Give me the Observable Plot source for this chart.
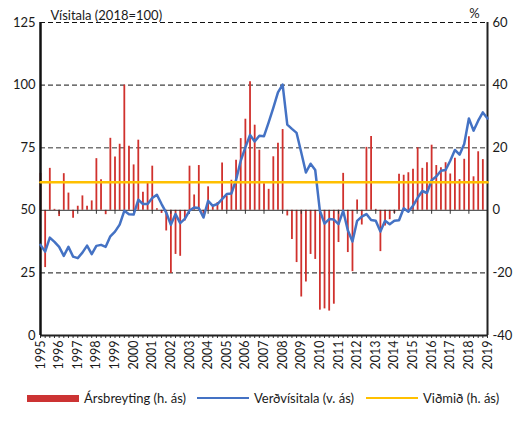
<!DOCTYPE html>
<html>
<head>
<meta charset="utf-8">
<script src="https://cdn.jsdelivr.net/npm/d3@7"></script>
<script src="https://cdn.jsdelivr.net/npm/@observablehq/plot@0.6"></script>
<style>
  html, body { margin: 0; padding: 0; background: #fff; }
  #wrap { position: relative; width: 518px; height: 427px; font-family: Lato, "Open Sans", sans-serif; }
  #legend { position: absolute; left: 0; top: 389px; width: 518px; height: 18px; font-size: 13px; color: #1a1a1a; }
  .item { position: absolute; top: 0; display: flex; align-items: center; height: 18px; white-space: nowrap; }
  .sw { display: inline-block; width: 52px; margin-right: 5px; }
</style>
</head>
<body>
<div id="wrap">
  <div id="chart"></div>
  <div id="legend">
    <div class="item" style="left:27px"><span class="sw" style="height:7px;background:#cc3333"></span>Ársbreyting (h. ás)</div>
    <div class="item" style="left:197px"><span class="sw" style="height:2.5px;background:#4472c4"></span>Verðvísitala (v. ás)</div>
    <div class="item" style="left:366px"><span class="sw" style="height:2.5px;background:#ffc000"></span>Viðmið (h. ás)</div>
  </div>
</div>
<script>
// ---- data (quarterly, 1995Q1 onward) ----
const startYear = 1995;
// Ársbreyting, % (right axis)
const annualChange = [
  11.8, -18.3, 13.4, 0.3, -2.0, 11.7, 5.5, -2.5, 1.3, 4.6, 1.3, 3.0,
  16.5, 9.8, -1.4, 23.0, 17.0, 21.1, 40.0, 20.5, 14.5, 22.4, 5.8, 8.9,
  14.1, 0.5, -1.0, -6.6, -20.2, -14.1, -14.7, -3.4, 14.1, 4.9, 14.3, -1.3,
  7.5, 1.4, 2.5, 15.1, 4.6, 9.6, 16.0, 22.9, 29.1, 41.1, 27.2, 19.2,
  8.5, 6.7, 17.1, 21.4, 25.8, -1.8, -9.3, -16.7, -27.7, -22.9, -14.1, -15.7,
  -31.9, -31.5, -32.2, -30.0, -10.3, 11.8, -13.5, -19.6, 3.3, -4.7, 20.1, 23.6,
  0.3, -13.2, -5.0, -3.0, -1.0, 11.5, 11.2, 12.0, 13.1, 20.0, 13.4, 15.2,
  20.8, 14.3, 13.6, 15.2, 11.6, 16.6, 9.8, 16.3, 23.5, 10.7, 18.7, 16.2
];
// Verðvísitala, 2018=100 (left axis)
const priceIndex = [
  36.2, 33.5, 39.1, 37.4, 35.4, 31.8, 35.4, 31.5, 30.9, 33.1, 35.9, 32.5,
  35.8, 36.2, 35.4, 39.6, 41.5, 44.3, 49.8, 48.4, 48.3, 54.2, 52.5, 52.5,
  54.9, 56.2, 52.5, 49.1, 44.2, 48.5, 44.9, 46.6, 49.9, 51.1, 50.9, 47.1,
  53.8, 51.8, 52.5, 54.5, 56.5, 56.7, 62.1, 69.8, 75.1, 80.1, 77.5, 79.8,
  79.6, 85.1, 90.9, 97.1, 100.2, 84.2, 82.5, 80.9, 73.1, 65.1, 68.6, 66.1,
  49.8, 44.7, 46.5, 46.3, 44.5, 49.8, 42.0, 37.5, 45.8, 47.5, 48.5, 46.1,
  45.8, 41.5, 45.8, 44.4, 45.8, 46.0, 50.8, 49.4, 51.8, 55.0, 57.7, 56.9,
  62.0, 63.5, 65.8, 66.1, 69.8, 74.1, 72.2, 76.5, 86.7, 81.8, 85.8, 89.1,
  86.7
];
const benchmark = 9;              // Viðmið, %
const yearTicks = d3.range(1995, 2020);
const leftTicks = [0, 25, 50, 75, 100, 125];
const rightTicks = [-40, -20, 0, 20, 40, 60];
const leftTitle = "Vísitala (2018=100)";
const rightTitle = "%";

// right-axis (%) value expressed in left-axis units: 0% <-> 50, 60% <-> 125
const toLeft = v => 50 + v * 1.25;
const toRight = u => (u - 50) / 1.25;

const bars = annualChange.map((v, i) => ({x: startYear + i / 4, v}));
const line = priceIndex.map((v, i) => ({x: startYear + i / 4, v}));
const quarters = d3.range(0, (2019 - 1995) * 4 + 1).map(i => startYear + i / 4);

const red = "#d0312d", blue = "#4472c4", yellow = "#ffc000";

const chart = Plot.plot({
  width: 518,
  height: 385,
  marginLeft: 40,
  marginRight: 31,
  marginTop: 22,
  marginBottom: 50,
  style: {fontFamily: "Lato, 'Open Sans', sans-serif", fontSize: "13px", color: "#1a1a1a", background: "#fff", overflow: "visible"},
  x: {domain: [1995, 2019]},
  y: {domain: [0, 125]},
  marks: [
    Plot.ruleY([25, 100, 125], {stroke: "#111", strokeWidth: 1, strokeDasharray: "5,3"}),
    Plot.ruleY([75], {stroke: "#777", strokeWidth: 1.5, strokeDasharray: "5,3"}),
    Plot.ruleX(bars, {x: "x", y1: 50, y2: d => toLeft(d.v), stroke: red, strokeWidth: 1.8}),
    Plot.ruleY([50], {stroke: "#333", strokeWidth: 1}),
    Plot.ruleX(yearTicks, {x: d => d, y1: 50, y2: 48.4, stroke: "#333", strokeWidth: 1}),
    Plot.ruleX(quarters, {x: d => d, y1: 0, y2: -1.2, stroke: "#333", strokeWidth: 1}),
    Plot.ruleY([0], {stroke: "#222", strokeWidth: 2}),
    Plot.ruleX([1995], {stroke: "#111", strokeWidth: 2.5}),
    Plot.ruleX([2019], {stroke: "#222", strokeWidth: 2}),
    Plot.lineY(line, {x: "x", y: "v", stroke: blue, strokeWidth: 2.5, strokeLinejoin: "round"}),
    Plot.lineY([{x: 1995}, {x: 2019}], {x: "x", y: () => toLeft(benchmark), stroke: yellow, strokeWidth: 2.5}),
    Plot.axisY(leftTicks, {anchor: "left", tickSize: 0, tickPadding: 5, label: null, fontSize: 13}),
    Plot.axisY(rightTicks.map(toLeft), {anchor: "right", tickSize: 0, tickPadding: 5, label: null, fontSize: 13,
      tickFormat: u => String(Math.round(toRight(u)))}),
    Plot.axisX(yearTicks, {anchor: "bottom", tickSize: 0, tickPadding: 5, tickRotate: -90, label: null, fontSize: 12.5,
      tickFormat: d => String(d)}),
    Plot.text([leftTitle], {frameAnchor: "top-left", dx: 10, dy: -3, textAnchor: "start", lineAnchor: "bottom", fontSize: 13}),
    Plot.text([rightTitle], {frameAnchor: "top-right", dx: -13, dy: -5, textAnchor: "middle", lineAnchor: "bottom", fontSize: 13})
  ]
});
document.getElementById("chart").appendChild(chart);
</script>
</body>
</html>
